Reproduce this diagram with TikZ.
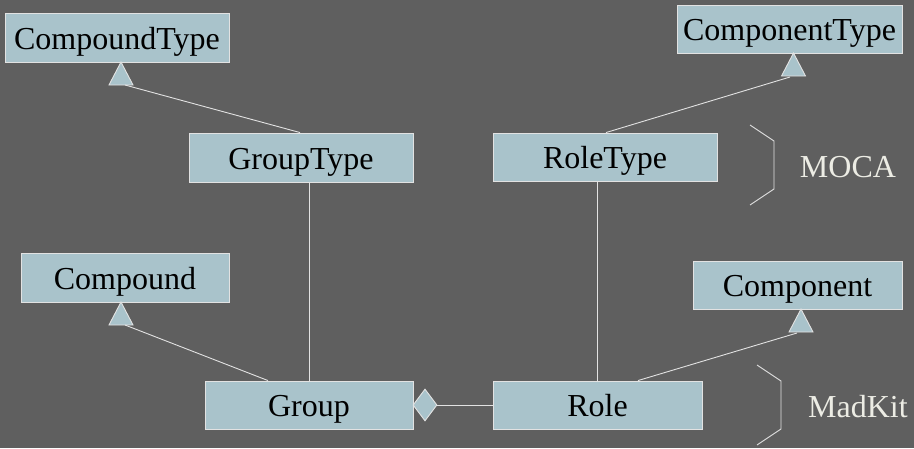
\documentclass[tikz,border=0pt]{standalone}
\usepackage{fontspec}
\setmainfont{Liberation Serif}
\usetikzlibrary{shapes.geometric}
\definecolor{bgc}{HTML}{5F5F5F}
\definecolor{boxc}{HTML}{A9C3CB}
\definecolor{linec}{HTML}{E2E2E2}
\definecolor{labc}{HTML}{ECECE4}
\begin{document}
\begin{tikzpicture}[x=1pt,y=-1pt,
  cls/.style={draw=linec,fill=boxc,line width=0.9pt,inner sep=0pt,text=black,
    font=\fontsize{32}{36}\selectfont,text height=25pt,text depth=2pt},
  conn/.style={draw=linec,line width=0.9pt},
  head/.style={draw=linec,fill=boxc,line width=0.9pt,line join=miter},
  lab/.style={text=labc,font=\fontsize{32}{36}\selectfont,inner sep=0pt}]
\fill[bgc] (0,0) rectangle (914,448);
\useasboundingbox (0,0) rectangle (914,448);
% classes
\node[cls,minimum width=224pt,minimum height=49pt] (CT) at (117,37.5) {CompoundType};
\node[cls,minimum width=224pt,minimum height=49pt] (GT) at (301,157.5) {GroupType};
\node[cls,minimum width=225pt,minimum height=48pt] (CpT) at (789.5,29) {ComponentType};
\node[cls,minimum width=224pt,minimum height=48pt] (RT) at (605,157) {RoleType};
\node[cls,minimum width=208pt,minimum height=49pt] (Cd) at (125,277.5) {Compound};
\node[cls,minimum width=209pt,minimum height=48pt] (Cp) at (797.5,285) {Component};
\node[cls,minimum width=208pt,minimum height=48pt] (G) at (309,405) {Group};
\node[cls,minimum width=209pt,minimum height=48pt] (R) at (597.5,405) {Role};
% generalization heads (apex at parent bottom)
\coordinate (aCT) at (121,62);
\coordinate (aCpT) at (793.5,53);
\coordinate (aCd) at (121,302);
\coordinate (aCp) at (801,309);
\foreach \a in {aCT,aCpT,aCd,aCp}{
  \draw[head] (\a) -- ++(-12,23) -- ++(24,0) -- cycle;
}
\coordinate (bCT) at (125,85);
\coordinate (bCpT) at (790,77);
\coordinate (bCd) at (125,325);
\coordinate (bCp) at (797,333);
\draw[conn] (GT.north -| 300,0) -- (bCT);
\draw[conn] (RT.north -| 606,0) -- (bCpT);
\draw[conn] (G.north -| 268,0) -- (bCd);
\draw[conn] (R.north -| 638,0) -- (bCp);
% associations
\draw[conn] (GT.south -| 309,0) -- (G.north -| 309,0);
\draw[conn] (RT.south -| 597,0) -- (R.north -| 597,0);
% aggregation diamond
\node[shape=diamond,draw=linec,fill=boxc,line width=0.9pt,inner sep=0pt,
  minimum width=24pt,minimum height=32pt] (dm) at (425,405) {};
\draw[conn] (dm.east) -- (R.west);
% package braces
\coordinate (m1) at (750,125);
\coordinate (m2) at (750,205);
\coordinate (k1) at (757,365);
\coordinate (k2) at (757,445);
\draw[conn] (m1) -- (774,141) -- (774,189) -- (m2);
\draw[conn] (k1) -- (781,381) -- (781,429) -- (k2);
\node[lab] (moca) at (848,167) {MOCA};
\node[lab] (madkit) at (858,407) {MadKit};
\end{tikzpicture}
\end{document}
